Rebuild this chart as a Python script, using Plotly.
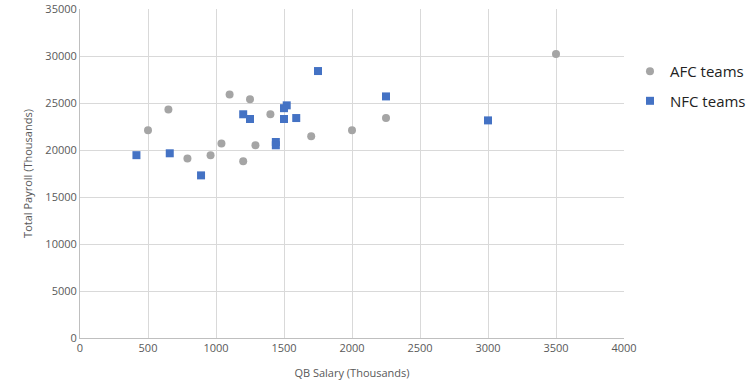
import plotly.graph_objects as go

afc_x = [1100, 1250, 650, 1400, 500, 2000, 1700, 1040, 1290, 960, 790, 1200, 3500, 2250]
afc_y = [25900, 25400, 24300, 23800, 22100, 22100, 21450, 20700, 20500, 19450, 19100, 18800, 30200, 23400]

nfc_x = [1750, 1520, 1500, 1200, 1250, 1500, 1590, 1440, 1440, 415, 660, 890, 2250, 3000]
nfc_y = [28400, 24750, 24450, 23800, 23300, 23300, 23400, 20850, 20500, 19450, 19650, 17300, 25700, 23150]

font_family = "Open Sans, Liberation Sans, sans-serif"

fig = go.Figure()
fig.add_trace(go.Scatter(
    x=afc_x, y=afc_y, mode="markers", name="AFC teams", legendgroup="afc",
    marker=dict(symbol="circle", size=8, color="#a5a5a5"),
))
fig.add_trace(go.Scatter(
    x=nfc_x, y=nfc_y, mode="markers", name="NFC teams", legendgroup="nfc",
    marker=dict(symbol="square", size=8, color="#4472c4"),
))

fig.update_layout(
    width=753, height=391,
    margin=dict(l=80, r=129, t=9, b=53, autoexpand=False),
    paper_bgcolor="white", plot_bgcolor="white",
    font=dict(family=font_family, color="#595959", size=11),
    showlegend=True,
    legend=dict(x=1.011, y=0.86, xanchor="left", yanchor="top",
                font=dict(size=15, color="#222222"),
                traceorder="grouped", tracegroupgap=7),
    xaxis=dict(
        range=[0, 4000], dtick=500, tick0=0, tickformat="d",
        showgrid=True, gridcolor="#d9d9d9", gridwidth=1,
        showline=True, linecolor="#bfbfbf", linewidth=1,
        zeroline=False, ticks="", automargin=False,
        tickfont=dict(size=11, color="#595959"),
        title=dict(text="QB Salary (Thousands)", font=dict(size=11, color="#595959"), standoff=15),
    ),
    yaxis=dict(
        range=[0, 35000], dtick=5000, tick0=0, tickformat="d",
        showgrid=True, gridcolor="#d9d9d9", gridwidth=1,
        showline=True, linecolor="#bfbfbf", linewidth=1,
        zeroline=False, ticks="", automargin=False,
        tickfont=dict(size=11, color="#595959"),
        title=dict(text="Total Payroll (Thousands)", font=dict(size=11, color="#595959"), standoff=10),
    ),
)

fig.write_html(
    "out.html",
    config={"displayModeBar": False},
    post_script="document.body.style.margin='0';document.body.style.padding='0';",
)
